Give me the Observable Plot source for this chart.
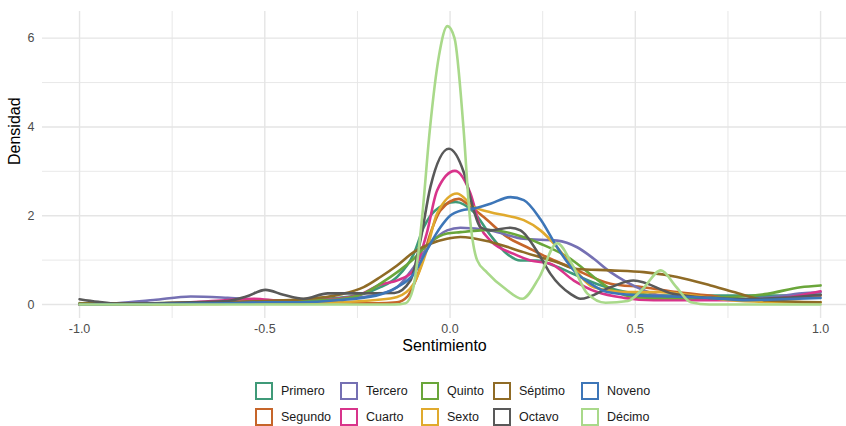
<!DOCTYPE html>
<html>
<head>
<meta charset="utf-8">
<script src="https://cdn.jsdelivr.net/npm/d3@7"></script>
<script src="https://cdn.jsdelivr.net/npm/@observablehq/plot@0.6"></script>
<style>
  html, body { margin: 0; padding: 0; background: #fff; }
  body { width: 846px; height: 426px; position: relative; overflow: hidden; font-family: "Liberation Sans", Arial, sans-serif; }
  #chart { position: absolute; left: 0; top: 0; }
  #legend { position: absolute; left: 255px; top: 382px; display: grid;
    grid-template-columns: 85px 81px 72px 88px auto; grid-template-rows: 17px 17px;
    grid-auto-flow: column; row-gap: 9px; font-size: 12.5px; color: #1a1a1a; }
  .item { display: flex; align-items: center; white-space: nowrap; }
  .key { width: 18px; height: 18px; box-sizing: border-box; border: 2.6px solid; margin-right: 8px; background: #fff; }
</style>
</head>
<body>
<div id="chart"></div>
<div id="legend"></div>
<script>
// Series (legend order) and colours
const series = ["Primero","Segundo","Tercero","Cuarto","Quinto","Sexto","Séptimo","Octavo","Noveno","Décimo"];
const colors = ["#3f9a78","#c6652a","#7570b3","#d8348b","#6aa63a","#e0aa2e","#8f6b26","#595959","#3d76b8","#a9d98a"];

// Axis ticks
const xTicks = [-1, -0.5, 0, 0.5, 1];
const xMinor = [-0.75, -0.25, 0.25, 0.75];
const yTicks = [0, 2, 4, 6];
const yMinor = [1, 3, 5];

// Density curves: [sentimiento, densidad]
const primero = [[-1,0.02],[-0.8,0.03],[-0.6,0.05],[-0.5,0.08],[-0.4,0.1],[-0.3,0.15],[-0.233,0.24],[-0.188,0.39],[-0.143,0.62],[-0.098,1.14],[-0.071,1.74],[-0.04,2.12],[0.015,2.31],[0.064,2.08],[0.109,1.56],[0.154,1.14],[0.19,0.99],[0.235,0.99],[0.28,0.88],[0.33,0.7],[0.4,0.45],[0.5,0.25],[0.6,0.2],[0.7,0.2],[0.8,0.2],[0.9,0.2],[1,0.22]];
const segundo = [[-1,0],[-0.8,0.01],[-0.6,0.05],[-0.5,0.08],[-0.4,0.06],[-0.3,0.05],[-0.2,0.03],[-0.143,0.05],[-0.116,0.17],[-0.08,0.84],[-0.053,1.6],[-0.026,2.12],[0.024,2.38],[0.046,2.27],[0.091,1.97],[0.154,1.52],[0.208,1.29],[0.271,1.03],[0.325,0.84],[0.433,0.47],[0.523,0.39],[0.613,0.28],[0.7,0.2],[0.8,0.1],[0.9,0.12],[1,0.2]];
const tercero = [[-1,0],[-0.9,0.03],[-0.8,0.1],[-0.7,0.18],[-0.6,0.15],[-0.5,0.1],[-0.4,0.08],[-0.3,0.12],[-0.2,0.22],[-0.143,0.39],[-0.098,0.84],[-0.053,1.37],[-0.008,1.67],[0.028,1.73],[0.109,1.67],[0.198,1.48],[0.289,1.44],[0.343,1.29],[0.388,1.03],[0.433,0.73],[0.478,0.5],[0.523,0.32],[0.568,0.2],[0.65,0.15],[0.75,0.12],[0.85,0.15],[0.95,0.25],[1,0.28]];
const cuarto = [[-1,0],[-0.8,0.02],[-0.7,0.05],[-0.6,0.1],[-0.53,0.13],[-0.45,0.08],[-0.35,0.1],[-0.25,0.2],[-0.188,0.45],[-0.14,0.55],[-0.098,0.77],[-0.063,1.6],[-0.035,2.57],[0.013,3.01],[0.055,2.5],[0.082,1.74],[0.109,1.44],[0.172,1.14],[0.217,0.99],[0.271,0.92],[0.334,0.54],[0.397,0.28],[0.47,0.15],[0.55,0.1],[0.7,0.1],[0.8,0.1],[0.9,0.15],[1,0.3]];
const quinto = [[-1,0.02],[-0.8,0.03],[-0.6,0.05],[-0.5,0.05],[-0.4,0.08],[-0.3,0.12],[-0.233,0.25],[-0.188,0.47],[-0.098,1.03],[-0.053,1.41],[-0.008,1.6],[0.028,1.63],[0.082,1.67],[0.109,1.68],[0.198,1.52],[0.244,1.37],[0.325,1.03],[0.343,0.92],[0.388,0.62],[0.433,0.35],[0.478,0.2],[0.55,0.15],[0.65,0.15],[0.765,0.17],[0.856,0.24],[0.946,0.39],[1,0.43]];
const sexto = [[-1,0],[-0.8,0],[-0.6,0.02],[-0.5,0.03],[-0.4,0.03],[-0.3,0.05],[-0.2,0.1],[-0.143,0.17],[-0.098,0.47],[-0.063,1.22],[-0.035,2.05],[0.019,2.5],[0.064,2.2],[0.109,2.08],[0.154,2.0],[0.199,1.9],[0.244,1.67],[0.289,1.29],[0.325,0.92],[0.388,0.39],[0.478,0.28],[0.568,0.28],[0.657,0.2],[0.75,0.1],[0.85,0.06],[1,0.05]];
const septimo = [[-1,0.02],[-0.8,0.03],[-0.6,0.05],[-0.5,0.08],[-0.4,0.12],[-0.3,0.22],[-0.233,0.39],[-0.188,0.62],[-0.143,0.88],[-0.098,1.18],[-0.053,1.37],[-0.008,1.48],[0.028,1.52],[0.109,1.41],[0.198,1.18],[0.289,0.95],[0.343,0.8],[0.433,0.77],[0.523,0.73],[0.613,0.62],[0.703,0.43],[0.766,0.28],[0.856,0.09],[1,0.05]];
const octavo = [[-1,0.12],[-0.95,0.06],[-0.9,0.02],[-0.8,0.02],[-0.7,0.05],[-0.6,0.08],[-0.55,0.18],[-0.498,0.33],[-0.45,0.22],[-0.395,0.13],[-0.33,0.25],[-0.25,0.25],[-0.15,0.26],[-0.107,0.54],[-0.08,1.44],[-0.053,2.65],[-0.003,3.51],[0.037,2.98],[0.064,2.12],[0.082,1.74],[0.109,1.67],[0.163,1.73],[0.19,1.67],[0.244,1.07],[0.271,0.69],[0.325,0.24],[0.352,0.13],[0.433,0.39],[0.495,0.54],[0.603,0.24],[0.7,0.15],[0.8,0.12],[0.9,0.15],[1,0.22]];
const noveno = [[-1,0],[-0.8,0.01],[-0.6,0.03],[-0.5,0.05],[-0.4,0.05],[-0.3,0.1],[-0.2,0.2],[-0.143,0.39],[-0.098,0.69],[-0.063,1.22],[-0.026,1.74],[0.0,2.0],[0.03,2.12],[0.064,2.16],[0.109,2.27],[0.163,2.42],[0.199,2.35],[0.244,1.92],[0.289,1.29],[0.334,0.77],[0.379,0.47],[0.424,0.28],[0.514,0.2],[0.6,0.18],[0.7,0.15],[0.8,0.1],[0.9,0.12],[1,0.15]];
const decimo = [[-1,0],[-0.5,0],[-0.2,0],[-0.15,0],[-0.12,0.03],[-0.1,0.35],[-0.088,1.0],[-0.075,2.0],[-0.055,3.9],[-0.03,5.6],[-0.007,6.27],[0.012,6.0],[0.036,4.0],[0.053,2.0],[0.073,1.0],[0.1,0.72],[0.15,0.35],[0.195,0.13],[0.24,0.6],[0.289,1.38],[0.33,0.9],[0.37,0.25],[0.42,0.04],[0.48,0.08],[0.52,0.35],[0.569,0.77],[0.61,0.4],[0.65,0.05],[0.7,0],[1,0]];

const curves = [primero, segundo, tercero, cuarto, quinto, sexto, septimo, octavo, noveno, decimo];
const data = series.flatMap((s, i) => curves[i].map(([x, y]) => ({serie: s, x, y})));

const grid = "#e5e5e5";
const chart = Plot.plot({
  width: 846, height: 362,
  marginLeft: 42, marginRight: 0, marginTop: 11, marginBottom: 44,
  style: {fontFamily: '"Liberation Sans", Arial, sans-serif', background: "#fff"},
  x: {domain: [-1.1, 1.07]},
  y: {domain: [-0.315, 6.6]},
  color: {domain: series, range: colors},
  marks: [
    Plot.gridX(xMinor, {stroke: grid, strokeOpacity: 1, strokeWidth: 0.9}),
    Plot.gridY(yMinor, {stroke: grid, strokeOpacity: 1, strokeWidth: 0.9}),
    Plot.gridX(xTicks, {stroke: grid, strokeOpacity: 1, strokeWidth: 1.4}),
    Plot.gridY(yTicks, {stroke: grid, strokeOpacity: 1, strokeWidth: 1.4}),
    Plot.line(data, {x: "x", y: "y", z: "serie", stroke: "serie", curve: "monotone-x", strokeWidth: 2.6}),
    Plot.axisX(xTicks, {tickSize: 0, tickPadding: 6, tickFormat: d => d.toFixed(1), fill: "#4d4d4d", fontSize: 12.5, label: null}),
    Plot.axisY(yTicks, {tickSize: 0, tickPadding: 8, fill: "#4d4d4d", fontSize: 12.5, label: null}),
    Plot.text(["Sentimiento"], {text: d => d, frameAnchor: "bottom", dy: 32, fontSize: 16, fill: "#000"}),
    Plot.text(["Densidad"], {text: d => d, frameAnchor: "left", dx: -28, rotate: -90, fontSize: 16, fill: "#000"})
  ]
});
document.getElementById("chart").appendChild(chart);

const legend = document.getElementById("legend");
series.forEach((s, i) => {
  const item = document.createElement("div");
  item.className = "item";
  const key = document.createElement("span");
  key.className = "key";
  key.style.borderColor = colors[i];
  const label = document.createElement("span");
  label.textContent = s;
  item.appendChild(key);
  item.appendChild(label);
  legend.appendChild(item);
});
</script>
</body>
</html>
